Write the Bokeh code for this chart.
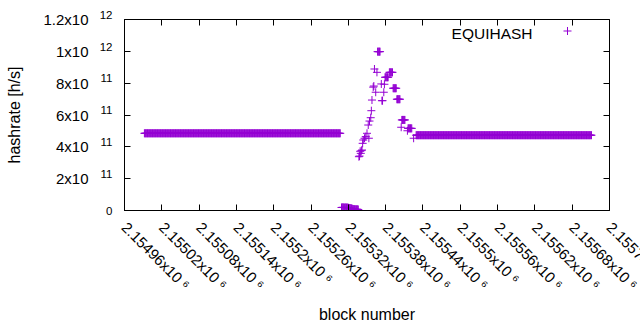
import numpy as np
from math import pi
from bokeh.plotting import figure
from bokeh.models import FixedTicker, LinearAxis, Range1d, Label, ColumnDataSource
from bokeh.embed import file_html
from bokeh.resources import INLINE

# ---------------- data ----------------
series_name = "EQUIHASH"
series_color = "#9400D3"

# long flat stretch before the event
plateau_a_blocks = list(range(2154992, 2155308))
plateau_a_value = 4.85e11

# near-zero stretch
low_blocks = list(range(2155309, 2155337))
low_values = [1.9e10, 1.9e10, 2.0e10, 1.9e10, 1.9e10, 1.8e10, 1.9e10,
              1.9e10, 1.8e10, 1.9e10, 1.8e10, 1.7e10, 1.6e10, 1.5e10,
              1.5e10, 1.4e10, 1.3e10, 1.2e10, 1.0e10, 0.9e10, 0.8e10,
              0.8e10, 0.8e10, 0.7e10, 0.7e10, 0.8e10, 0.7e10, 0.6e10]

# spike
spike_blocks = [2155337, 2155338, 2155339, 2155340, 2155341, 2155342, 2155343,
                2155344, 2155346, 2155348, 2155350, 2155352, 2155353, 2155354,
                2155356, 2155357, 2155358, 2155360, 2155361, 2155362, 2155364,
                2155366, 2155367, 2155368, 2155369, 2155370, 2155371, 2155373,
                2155374, 2155375, 2155377, 2155378, 2155379, 2155380, 2155381,
                2155382, 2155383, 2155384, 2155386, 2155387, 2155388, 2155389,
                2155390, 2155391, 2155392, 2155393, 2155394, 2155395, 2155396,
                2155397, 2155398, 2155399, 2155400, 2155401, 2155402, 2155403,
                2155405, 2155406, 2155407, 2155408, 2155409, 2155410, 2155411,
                2155415, 2155416, 2155417, 2155418, 2155419, 2155420, 2155421,
                2155422, 2155425]
spike_values = [3.38e11, 3.42e11, 3.72e11, 3.59e11, 3.76e11, 3.80e11, 4.22e11,
                4.43e11, 4.54e11, 4.64e11, 4.85e11, 5.37e11, 4.54e11, 5.62e11,
                5.83e11, 6.27e11, 6.94e11, 7.75e11, 7.82e11, 8.89e11, 7.43e11,
                8.68e11, 9.98e11, 9.98e11, 9.98e11, 9.98e11, 9.98e11, 7.95e11,
                6.90e11, 6.90e11, 7.43e11, 7.93e11, 8.37e11, 8.37e11, 8.37e11,
                8.37e11, 8.37e11, 8.37e11, 8.68e11, 8.68e11, 8.68e11, 8.68e11,
                8.68e11, 8.68e11, 7.68e11, 7.68e11, 7.68e11, 7.68e11, 7.68e11,
                7.68e11, 6.99e11, 6.99e11, 6.99e11, 6.99e11, 6.99e11, 6.99e11,
                5.23e11, 5.69e11, 5.69e11, 5.69e11, 5.69e11, 5.69e11, 5.69e11,
                5.01e11, 5.16e11, 5.16e11, 5.16e11, 5.16e11, 5.16e11, 5.16e11,
                5.16e11, 4.54e11]

# flat stretch after the event
plateau_c_blocks = list(range(2155429, 2155712))
plateau_c_value = 4.73e11

# axes
x_min, x_max = 2154960, 2155740
y_min, y_max = 0, 1.2e12
x_ticks = [2154960, 2155020, 2155080, 2155140, 2155200, 2155260, 2155320,
           2155380, 2155440, 2155500, 2155560, 2155620, 2155680, 2155740]
x_tick_labels = ["2.15496x10 \u2076", "2.15502x10 \u2076", "2.15508x10 \u2076",
                 "2.15514x10 \u2076", "2.1552x10 \u2076", "2.15526x10 \u2076",
                 "2.15532x10 \u2076", "2.15538x10 \u2076", "2.15544x10 \u2076",
                 "2.1555x10 \u2076", "2.15556x10 \u2076", "2.15562x10 \u2076",
                 "2.15568x10 \u2076", "2.15574x10 \u2076"]
y_ticks = [0, 2e11, 4e11, 6e11, 8e11, 1e12, 1.2e12]
y_tick_mantissas = ["", "2x10", "4x10", "6x10", "8x10", "1x10", "1.2x10"]
y_tick_exponents = ["0", "11", "11", "11", "11", "12", "12"]
x_label = "block number"
y_label = "hashrate [h/s]"

# ---------------- build ----------------
blocks = np.concatenate([plateau_a_blocks, low_blocks, spike_blocks, plateau_c_blocks])
values = np.concatenate([np.full(len(plateau_a_blocks), plateau_a_value), low_values,
                         spike_values, np.full(len(plateau_c_blocks), plateau_c_value)])
src = ColumnDataSource(dict(block=blocks, hashrate=values))

FONT = "Liberation Sans"
LEFT, TOP, BOTTOM = 124, 19, 120
FW = 485
W, H = 700, 330      # wider than the 640px window, so the last label is cut like the original
RIGHT = W - LEFT - FW
FH = H - TOP - BOTTOM

p = figure(width=W, height=H,
           x_range=Range1d(x_min, x_max), y_range=Range1d(y_min, y_max),
           output_backend="svg", toolbar_location=None,
           min_border_left=LEFT, min_border_right=RIGHT,
           min_border_top=TOP, min_border_bottom=BOTTOM)
p.background_fill_color = "white"
p.border_fill_color = "white"
p.outline_line_color = "black"
p.outline_line_width = 1
p.xgrid.visible = False
p.ygrid.visible = False

p.scatter("block", "hashrate", source=src, marker="cross", size=8,
          line_color=series_color, line_width=1)


def style(ax, ticks_visible=True):
    ax.major_tick_in = 6 if ticks_visible else 0
    ax.major_tick_out = 0
    ax.minor_tick_line_color = None
    ax.major_tick_line_color = "black" if ticks_visible else None
    ax.axis_line_color = None
    ax.major_label_text_font = FONT
    ax.major_label_text_color = "black"
    ax.axis_label_text_font = FONT
    ax.axis_label_text_font_size = "16px"
    ax.axis_label_text_font_style = "normal"
    ax.axis_label_text_color = "black"


def tick_only(ax, ticks):
    style(ax)
    ax.ticker = FixedTicker(ticks=ticks)
    ax.major_label_overrides = {t: "" for t in ticks}
    ax.major_label_text_font_size = "1px"
    ax.major_label_standoff = 0


# bottom axis: ticks + rotated labels
xa = p.xaxis[0]
style(xa)
xa.axis_line_color = "black"
xa.ticker = FixedTicker(ticks=x_ticks)
xa.major_label_overrides = {t: "    " + s for t, s in zip(x_ticks, x_tick_labels)}
xa.major_label_orientation = -pi / 4
xa.major_label_text_font_size = "15px"
xa.major_label_standoff = 14
xa.axis_label = x_label
xa.axis_label_standoff = -8

# left: tick-only axis next to the frame
ya = p.yaxis[0]
tick_only(ya, y_ticks)
ya.axis_line_color = "black"

# left: exponents (raised with an empty second line), then mantissas
y_exp = LinearAxis(ticker=FixedTicker(ticks=y_ticks))
style(y_exp, ticks_visible=False)
y_exp.major_label_overrides = {t: (e + "\n" if m else e)
                               for t, m, e in zip(y_ticks, y_tick_mantissas, y_tick_exponents)}
y_exp.major_label_text_font_size = "11.5px"
y_exp.major_label_text_line_height = 0.8
y_exp.major_label_standoff = 12
p.add_layout(y_exp, "left")

y_man = LinearAxis(ticker=FixedTicker(ticks=y_ticks))
style(y_man, ticks_visible=False)
y_man.major_label_overrides = dict(zip(y_ticks, y_tick_mantissas))
y_man.major_label_text_font_size = "15px"
y_man.major_label_standoff = 8
y_man.axis_label = y_label
y_man.axis_label_standoff = 17
p.add_layout(y_man, "left")

# mirrored ticks on top and right
top = LinearAxis()
right = LinearAxis()
tick_only(top, x_ticks)
tick_only(right, y_ticks)
p.add_layout(top, "above")
p.add_layout(right, "right")

# key (gnuplot style: text, then sample)
p.extra_x_ranges = {"key": Range1d(0, FW)}
p.extra_y_ranges = {"key": Range1d(0, FH)}
p.add_layout(Label(x=408, y=FH - 13.5, x_range_name="key", y_range_name="key",
                   text=series_name, text_align="right", text_baseline="middle",
                   text_font=FONT, text_font_size="15.5px", text_color="black"))
key_src = ColumnDataSource(dict(x=[443], y=[FH - 11.5]))
p.scatter("x", "y", source=key_src, x_range_name="key", y_range_name="key",
          marker="cross", size=8, line_color=series_color, line_width=1)

open("out.html", "w").write(file_html(p, INLINE))
